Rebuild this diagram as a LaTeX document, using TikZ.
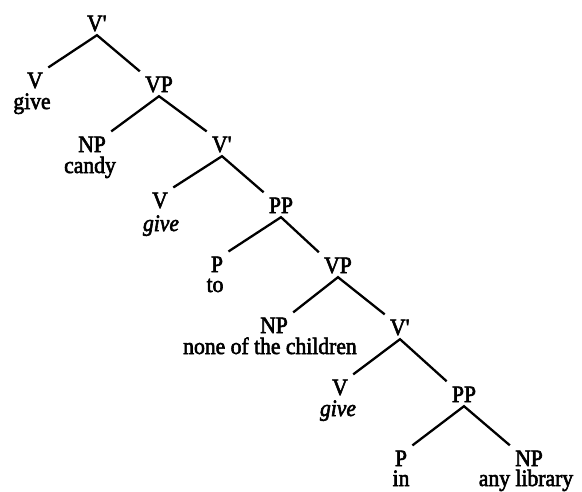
\documentclass[tikz,border=0pt]{standalone}
\usepackage{fontspec}
\setmainfont{Liberation Serif}[FakeStretch=0.92,FakeBold=2.5]

\newcommand{\treefont}{\fontsize{23.5}{28}\selectfont}

\begin{document}
\begin{tikzpicture}[x=1pt,y=-1pt,
        cat/.style={anchor=base, inner sep=4pt, text height=15.5pt, text depth=0pt, font=\treefont},
        word/.style={anchor=base, inner sep=0pt, font=\treefont},
        branch/.style={line width=2.3pt, line join=miter, shorten <=1.5pt, shorten >=1.5pt}]
        \useasboundingbox (0,0) rectangle (582,491);

        % Category labels
        \node[cat] (vbar1) at (97,31) {V\textquotesingle};
        \node[cat] (v1) at (35,88) {V};
        \node[cat] (vp1) at (159,92) {VP};
        \node[cat] (np1) at (92,152) {NP};
        \node[cat] (vbar2) at (222,152) {V\textquotesingle};
        \node[cat] (v2) at (160,208) {V};
        \node[cat] (pp1) at (281,213) {PP};
        \node[cat] (p1) at (217,272) {P};
        \node[cat] (vp2) at (338,273) {VP};
        \node[cat] (np2) at (274,333) {NP};
        \node[cat] (vbar3) at (400,335) {V\textquotesingle};
        \node[cat] (v3) at (340,395) {V};
        \node[cat] (pp2) at (464,402) {PP};
        \node[cat] (p2) at (401,466) {P};
        \node[cat] (np3) at (529,466) {NP};

        % Words under the leaves
        \node[word] (give1) at (32,109) {give};
        \node[word] (candy) at (90,173) {candy};
        \node[word] (give2) at (161,231) {\itshape give};
        \node[word] (to) at (215,292) {to};
        \node[word] (children) at (270,354) {none of the children};
        \node[word] (give3) at (338,416) {\itshape give};
        \node[word] (in) at (401,486) {in};
        \node[word] (library) at (526,486) {any library};

        % Branches: parent / left daughter / right daughter
        \foreach \p/\l/\r in {vbar1/v1/vp1, vp1/np1/vbar2, vbar2/v2/pp1, pp1/p1/vp2,
                              vp2/np2/vbar3, vbar3/v3/pp2, pp2/p2/np3}
            \draw[branch] (\l.north east) -- (\p.south) -- (\r.north west);

    \end{tikzpicture}
\end{document}
